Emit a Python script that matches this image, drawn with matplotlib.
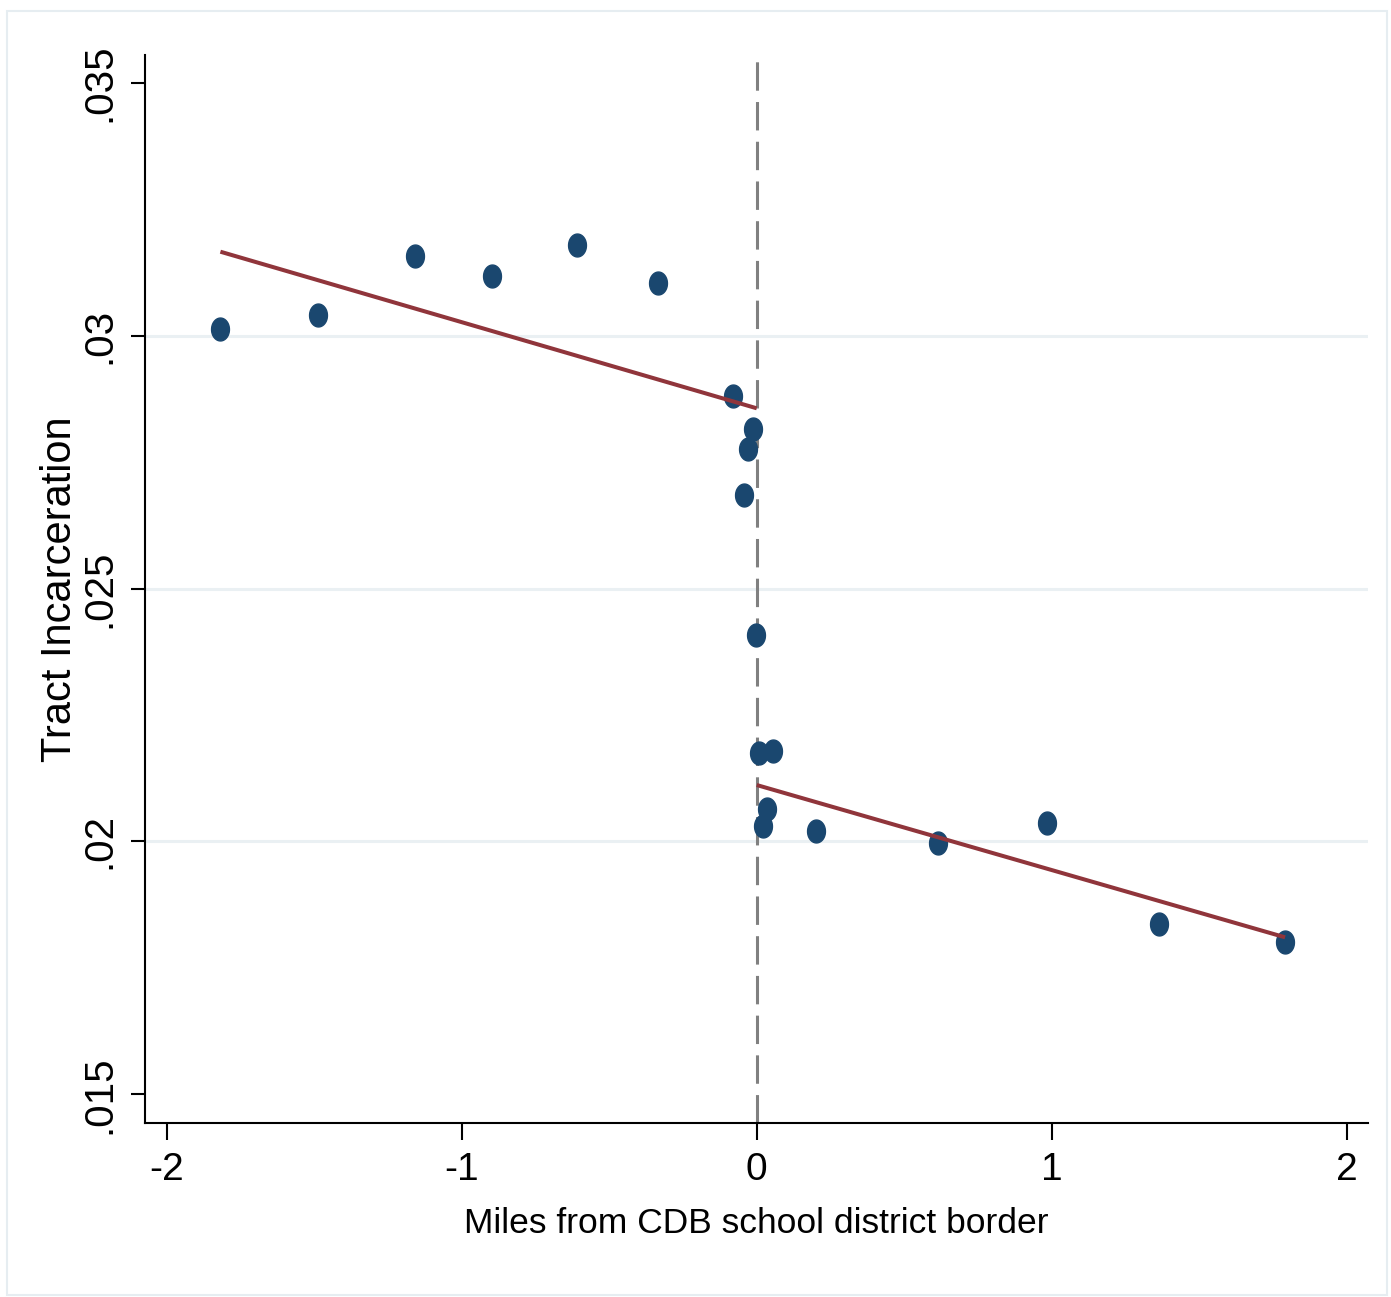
import numpy as np
import matplotlib
matplotlib.use("Agg")
import matplotlib.pyplot as plt
from matplotlib.path import Path
from matplotlib.patches import Rectangle

plt.rcParams['font.family'] = ['Liberation Sans', 'DejaVu Sans']

# binned means
miles = [-1.818, -1.487, -1.158, -0.897, -0.609, -0.335, -0.079, -0.014, -0.029, -0.044,
         -0.001, 0.009, 0.054, 0.036, 0.022, 0.201, 0.615, 0.984, 1.365, 1.791]
incarceration = [0.03013, 0.03041, 0.03157, 0.03118, 0.03179, 0.03104, 0.02881, 0.02815,
                 0.02775, 0.02685, 0.02408, 0.02174, 0.02179, 0.02065, 0.02031, 0.02021,
                 0.01997, 0.02036, 0.01836, 0.01802]

# linear fits on each side of the border
fit_left_x = [-1.818, 0.0]
fit_left_y = [0.031659, 0.028563]
fit_right_x = [0.0, 1.791]
fit_right_y = [0.021115, 0.018104]

xticks = [-2, -1, 0, 1, 2]
xtick_labels = ['-2', '-1', '0', '1', '2']
yticks = [0.015, 0.02, 0.025, 0.03, 0.035]
ytick_labels = ['.015', '.02', '.025', '.03', '.035']
grid_y = [0.02, 0.025, 0.03]

navy = '#1a476f'
maroon = '#90353b'

fig = plt.figure(figsize=(13.91, 12.97), dpi=100)
ax = fig.add_axes([145 / 1391, 1 - 1123.3 / 1297, (1368 - 145) / 1391, (1123.3 - 55) / 1297])

for g in grid_y:
    ax.axhline(g, color='#eaf0f3', lw=2.2, zorder=0)
ax.axvline(0, color='#808080', lw=2.2, dashes=(9.3, 3.7), zorder=1)

# slightly tall ellipse marker
t = np.linspace(0, 2 * np.pi, 60)
ell = Path(np.column_stack([0.78 * np.cos(t), np.sin(t)]), closed=True)
ax.plot(miles, incarceration, ls='none', marker=ell, ms=16.5, color=navy, mec=navy, zorder=3)

ax.plot(fit_left_x, fit_left_y, color=maroon, lw=2.9, zorder=4, solid_capstyle='butt')
ax.plot(fit_right_x, fit_right_y, color=maroon, lw=2.9, zorder=4, solid_capstyle='butt')

ax.set_xlim(-2.0736, 2.072)
ax.set_ylim(0.014427, 0.035548)

ax.spines['top'].set_visible(False)
ax.spines['right'].set_visible(False)
ax.spines['left'].set_linewidth(1.5)
ax.spines['bottom'].set_linewidth(1.5)

ax.set_xticks(xticks)
ax.set_xticklabels(xtick_labels, fontsize=28)
ax.set_yticks(yticks)
ax.set_yticklabels(ytick_labels, fontsize=29, rotation=90, va='center', ha='right')
ax.tick_params(axis='x', length=12, width=1.5, pad=9)
ax.tick_params(axis='y', length=10, width=1.5, pad=9)

fig.text(60 / 1391, 1 - 589 / 1297, 'Tract Incarceration', rotation=90, ha='center', va='center',
         fontsize=30)
fig.text(756.5 / 1391, 1 - 1233 / 1297, 'Miles from CDB school district border', ha='center',
         va='baseline', fontsize=25.5)

fig.patches.append(Rectangle((7 / 1391, 1 - 1295 / 1297), (1387 - 7) / 1391, (1295 - 11) / 1297,
                             transform=fig.transFigure, fill=False, ec='#e6edf1', lw=1.5))

fig.savefig('out.png', dpi=100)
